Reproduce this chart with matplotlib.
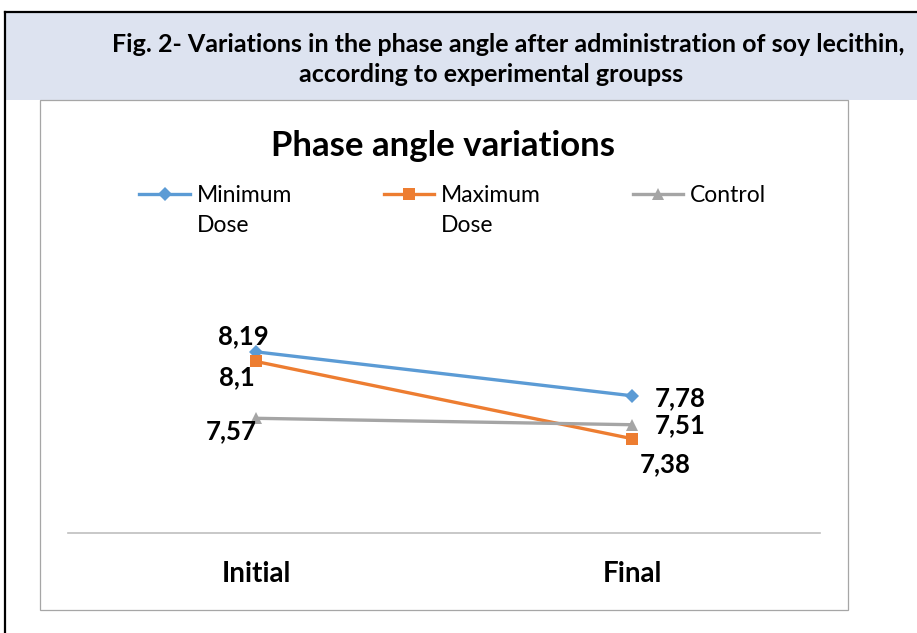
import matplotlib.pyplot as plt
from matplotlib.patches import Rectangle
from matplotlib.lines import Line2D

plt.rcParams['font.family'] = ['Lato', 'DejaVu Sans']

# data
categories = ['Initial', 'Final']
series_names = ['Minimum\nDose', 'Maximum\nDose', 'Control']
min_dose = [8.19, 7.78]
max_dose = [8.10, 7.38]
control = [7.57, 7.51]
colors = ['#5b9bd5', '#ed7d31', '#a5a5a5']
markers = ['D', 's', '^']

W, H = 917, 633
fig = plt.figure(figsize=(W / 100, H / 100), dpi=100)


def fx(px):
    return px / W


def fy(py):
    return 1 - py / H


# header band and black frame
fig.patches.append(Rectangle((fx(5), fy(100)), fx(912), fy(12) - fy(100),
                             transform=fig.transFigure, facecolor='#dde3f0',
                             edgecolor='none', zorder=-2))
fig.lines.append(Line2D([fx(5), 1], [fy(12), fy(12)], transform=fig.transFigure,
                        color='black', lw=1.6))
fig.lines.append(Line2D([fx(5), fx(5)], [fy(12), 0], transform=fig.transFigure,
                        color='black', lw=1.6))
fig.text(fx(508), fy(44), 'Fig. 2- Variations in the phase angle after administration of soy lecithin,',
         ha='center', va='center', fontsize=18, fontweight='bold')
fig.text(fx(491), fy(74), 'according to experimental groupss',
         ha='center', va='center', fontsize=18, fontweight='bold')

# chart box
fig.patches.append(Rectangle((fx(40), fy(610)), fx(808), fy(100) - fy(610),
                             transform=fig.transFigure, facecolor='white',
                             edgecolor='#a6a6a6', lw=0.9, zorder=-2))
fig.text(fx(443), fy(146), 'Phase angle variations', ha='center', va='center',
         fontsize=25, fontweight='bold')

ax = fig.add_axes([fx(68), fy(533), fx(752), fy(265) - fy(533)])
ax.set_zorder(2)
ax.set_facecolor('none')
x = list(range(len(categories)))
series = [min_dose, max_dose, control]
for vals, name, c, m in zip(series, series_names, colors, markers):
    ax.plot(x, vals, color=c, lw=2.4, marker=m, markersize=8 if m != 'D' else 7,
            markeredgewidth=0, label=name.split('\n')[0])

# data labels (offsets in points)
label_offsets = [[(-9, 11.5), (35, -2)],
                 [(-14, -11), (24, -18)],
                 [(-18, -9), (35, 0)]]
for vals, offs in zip(series, label_offsets):
    for xi, v, off in zip(x, vals, offs):
        ax.annotate(f'{v:g}'.replace('.', ','), (xi, v), xytext=off,
                    textcoords='offset points', ha='center', va='center',
                    fontsize=18.5, fontweight='bold')

ax.set_xlim(-0.5, 1.5)
ax.set_ylim(6.5, 9.0)
ax.set_yticks([])
ax.set_xticks(x)
ax.set_xticklabels(categories, fontsize=20, fontweight='bold')
ax.tick_params(axis='x', length=0, pad=20)
for s in ['left', 'right', 'top']:
    ax.spines[s].set_visible(False)
ax.spines['bottom'].set_color('#bfbfbf')
ax.spines['bottom'].set_linewidth(1.2)

leg = ax.legend(loc='center left', bbox_to_anchor=(fx(128), fy(196)),
                bbox_transform=fig.transFigure, ncol=3, frameon=False,
                fontsize=16.5, handlelength=2.2, handletextpad=0.3,
                columnspacing=4.0, borderpad=0)

# second line of the wrapped legend labels
fig.canvas.draw()
inv = fig.transFigure.inverted()
for txt, name in zip(leg.get_texts(), series_names):
    lines = name.split('\n')
    if len(lines) > 1:
        bb = txt.get_window_extent()
        x0, y0 = inv.transform((bb.x0, bb.y0))
        fig.text(x0, y0 - 29 / H, lines[1], ha='left', va='bottom',
                 fontsize=16.5, zorder=3)

fig.savefig('out.png', dpi=100)
